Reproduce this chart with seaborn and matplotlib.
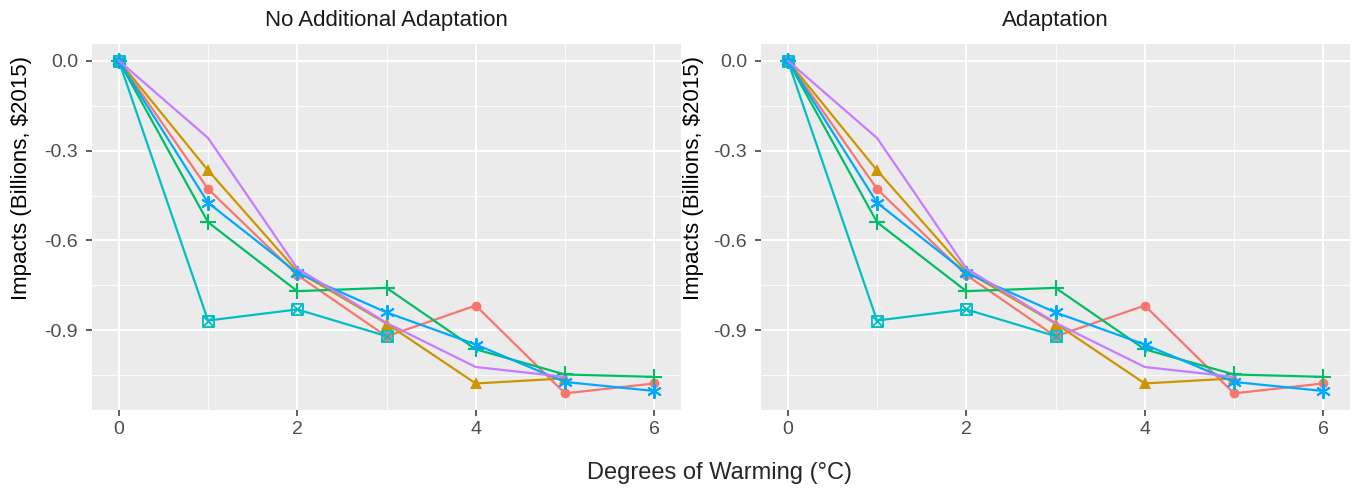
import matplotlib
matplotlib.use("Agg")
import matplotlib.pyplot as plt
from matplotlib.path import Path
from matplotlib.ticker import MultipleLocator
import numpy as np
import pandas as pd
import seaborn as sns

# ---- data ----
degrees = [0, 1, 2, 3, 4, 5, 6]
red_vals = [0.0, -0.428, -0.715, -0.92, -0.817, -1.11, -1.077]
gold_vals = [0.0, -0.366, -0.703, -0.877, -1.077, -1.06]
green_vals = [0.0, -0.539, -0.769, -0.758, -0.963, -1.047, -1.055]
cyan_vals = [0.0, -0.867, -0.83, -0.919]
blue_vals = [0.0, -0.474, -0.708, -0.84, -0.947, -1.072, -1.102]
purple_vals = [0.0, -0.258, -0.693, -0.875, -1.022, -1.055]

series_names = ["A", "B", "D", "E", "F", "G"]
series_vals = [red_vals, gold_vals, green_vals, cyan_vals, blue_vals, purple_vals]
colors = ["#F8766D", "#CD9600", "#00BE67", "#00BFC4", "#00A9FF", "#C77CFF"]

panel_titles = ["No Additional Adaptation", "Adaptation"]
x_label = "Degrees of Warming (°C)"
y_label = "Impacts (Billions, \\$2015)"
y_ticks = [0.0, -0.3, -0.6, -0.9]
x_ticks = [0, 2, 4, 6]

# marker for boxed x (ggplot shape 7)
box_x = Path(
    [(-1, -1), (1, -1), (1, 1), (-1, 1), (-1, -1), (-1, -1), (1, 1), (-1, 1), (1, -1)],
    [Path.MOVETO, Path.LINETO, Path.LINETO, Path.LINETO, Path.CLOSEPOLY,
     Path.MOVETO, Path.LINETO, Path.MOVETO, Path.LINETO],
)
marker_styles = [
    dict(marker="o", markersize=7, markeredgewidth=0),
    dict(marker="^", markersize=8, markeredgewidth=0),
    dict(marker="+", markersize=11, markeredgewidth=1.5),
    dict(marker=box_x, markersize=8, markerfacecolor="none", markeredgewidth=1.3),
    dict(marker=(6, 2, 0), markersize=10.5, markeredgewidth=1.4),
    dict(marker=None),
]

rows = []
for name, vals in zip(series_names, series_vals):
    for d, v in zip(degrees, vals):
        rows.append({"series": name, "deg": d, "impact": v})
df = pd.DataFrame(rows)

sns.set_theme(style="darkgrid")
plt.rcParams["font.family"] = ["Liberation Sans", "DejaVu Sans"]

fig = plt.figure(figsize=(13.53, 4.9), dpi=100)
W, H = 1353, 490
panel_lefts = [92, 761]
label_x = [32, 704]
pw = 589
top, bottom = 44, 410

for pi, left in enumerate(panel_lefts):
    ax = fig.add_axes([left / W, (H - bottom) / H, pw / W, (bottom - top) / H])
    ax.set_facecolor("#EBEBEB")
    for name, col, ms in zip(series_names, colors, marker_styles):
        sub = df[df["series"] == name]
        kw = dict(ms)
        if kw.get("marker") is None:
            kw.pop("marker")
        sns.lineplot(data=sub, x="deg", y="impact", ax=ax, color=col, lw=1.6,
                     markeredgecolor=col, legend=False, zorder=3, **kw)
    ax.set_xlim(-0.3, 6.3)
    ax.set_ylim(-1.1655, 0.0555)
    ax.set_xticks(x_ticks)
    ax.set_yticks(y_ticks)
    ax.set_yticklabels([f"{t:.1f}" for t in y_ticks])
    ax.xaxis.set_minor_locator(MultipleLocator(1))
    ax.yaxis.set_minor_locator(MultipleLocator(0.15))
    ax.grid(True, which="major", color="white", lw=1.4)
    ax.grid(True, which="minor", color="white", lw=0.6)
    ax.set_axisbelow(True)
    for s in ax.spines.values():
        s.set_visible(False)
    ax.tick_params(which="major", length=4, width=1.1, color="#333333",
                   labelcolor="#4D4D4D", labelsize=14, pad=4, direction="out",
                   bottom=True, left=True)
    ax.tick_params(axis="y", which="major", pad=6)
    ax.tick_params(which="minor", length=0)
    ax.set_xlabel("")
    ax.set_ylabel(y_label, fontsize=16, color="black")
    ax.yaxis.set_label_coords((label_x[pi] - left) / pw, (bottom - 178) / (bottom - top))
    ax.set_title(panel_titles[pi], fontsize=16, color="#1A1A1A", pad=13)

fig.text(720 / W, 1 - 473 / H, x_label, ha="center", va="center", fontsize=17)
fig.savefig("out.png", dpi=100, facecolor="white")
